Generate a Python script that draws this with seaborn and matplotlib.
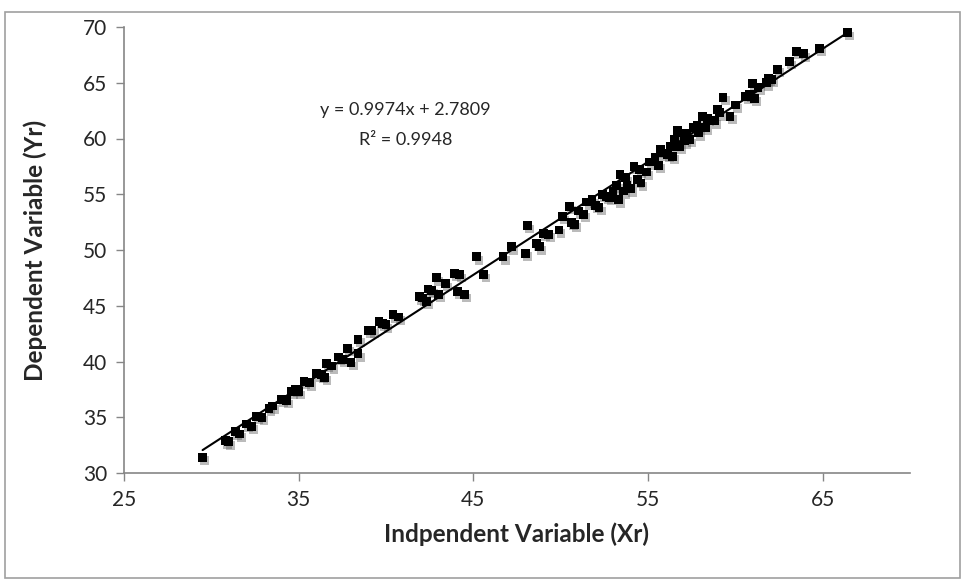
import numpy as np
import pandas as pd
import seaborn as sns
import matplotlib
matplotlib.use("Agg")
import matplotlib.pyplot as plt
import matplotlib.patheffects as pe
from matplotlib.patches import Rectangle

xr = [29.5, 30.8, 31.0, 31.4, 31.6, 32.0, 32.3, 32.6, 32.9, 33.3, 33.5, 34.0, 34.3,
      34.6, 34.8, 35.0, 35.3, 35.6, 36.0, 36.3, 36.5, 36.6, 36.9, 37.3, 37.5, 37.8,
      38.0, 38.4, 38.4, 39.0, 39.2, 39.6, 39.8, 40.0, 40.4, 40.7, 41.9, 42.1, 42.3,
      42.4, 42.6, 42.9, 43.0, 43.4, 43.9, 44.2, 44.1, 44.5, 45.2, 45.6, 46.7, 47.2,
      48.1, 48.0, 48.6, 48.8, 49.0, 49.3, 49.9, 50.1, 50.5, 50.6, 50.8, 51.0, 51.3,
      51.5, 51.8, 52.0, 52.2, 52.4, 52.6, 52.8, 53.0, 53.2, 53.3, 53.4, 53.6, 53.7,
      53.8, 54.0, 54.2, 54.4, 54.5, 54.6, 54.9, 55.1, 55.4, 55.6, 55.7, 55.9, 56.1,
      56.3, 56.4, 56.5, 56.7, 56.8, 56.9, 57.1, 57.2, 57.4, 57.6, 57.8, 57.9, 58.1,
      58.3, 58.4, 58.8, 59.0, 59.1, 59.3, 59.7, 60.0, 60.6, 60.8, 61.0, 61.1, 61.3,
      61.8, 61.9, 62.1, 62.4, 63.1, 63.5, 63.9, 64.8, 66.4]
yr = [31.4, 32.9, 32.8, 33.7, 33.5, 34.4, 34.2, 35.1, 35.0, 35.8, 36.0, 36.6, 36.5,
      37.3, 37.5, 37.3, 38.2, 38.1, 38.9, 38.8, 38.6, 39.8, 39.6, 40.4, 40.2, 41.2,
      39.9, 42.0, 40.7, 42.8, 42.8, 43.6, 43.4, 43.3, 44.2, 44.0, 45.8, 45.7, 45.4,
      46.5, 46.4, 47.5, 46.0, 47.0, 47.9, 47.8, 46.3, 46.0, 49.4, 47.8, 49.4, 50.3,
      52.2, 49.7, 50.6, 50.3, 51.5, 51.4, 51.8, 53.0, 53.9, 52.5, 52.3, 53.5, 53.2,
      54.3, 54.5, 54.0, 53.8, 55.0, 54.8, 54.7, 55.3, 55.8, 54.5, 56.8, 55.3, 56.5,
      55.8, 55.5, 57.5, 56.3, 57.2, 56.0, 57.0, 57.9, 58.3, 57.6, 59.0, 58.7, 58.6,
      59.3, 58.4, 59.9, 60.7, 59.3, 60.5, 59.8, 60.5, 59.9, 61.0, 61.2, 60.5, 62.0,
      61.0, 61.8, 61.6, 62.6, 62.3, 63.7, 62.0, 63.0, 63.8, 64.0, 64.9, 63.6, 64.6,
      65.0, 65.4, 65.3, 66.2, 66.9, 67.8, 67.6, 68.1, 69.5]

eq_text = "y = 0.9974x + 2.7809"
r2_text = "R\u00b2 = 0.9948"
x_ticks = [25, 35, 45, 55, 65]
y_ticks = [30, 35, 40, 45, 50, 55, 60, 65, 70]

df = pd.DataFrame({"x": xr, "y": yr})

sns.set_style("white")
plt.rcParams["font.family"] = ["Lato", "DejaVu Sans"]

fig = plt.figure(figsize=(9.68, 5.81), dpi=100)
fig.patch.set_facecolor("white")
fig.patches.append(Rectangle((5 / 968, 3 / 581), 955 / 968, 566 / 581,
                             transform=fig.transFigure, fill=False,
                             edgecolor="#a0a0a0", linewidth=1.2))
ax = fig.add_axes([124 / 968, 1 - 473 / 581, 786 / 968, 446 / 581])

sns.regplot(data=df, x="x", y="y", ax=ax, ci=None, truncate=True,
            marker="s",
            scatter_kws=dict(s=40, color="black", edgecolors="none", alpha=1,
                             path_effects=[pe.SimplePatchShadow(offset=(1.5, -2.5), shadow_rgbFace="#555555", alpha=0.4),
                                           pe.Normal()]),
            line_kws=dict(color="black", linewidth=1.5))

ax.set_xlim(25, 70)
ax.set_ylim(30, 70)
ax.set_xticks(x_ticks)
ax.set_yticks(y_ticks)
ax.tick_params(axis="both", labelsize=15, direction="out", length=6, width=1,
               color="#868686")
ax.tick_params(axis="x", pad=6)
ax.tick_params(axis="y", pad=6)
ax.xaxis.set_ticks_position("bottom")
ax.yaxis.set_ticks_position("left")
for s in ["top", "right"]:
    ax.spines[s].set_visible(False)
for s in ["left", "bottom"]:
    ax.spines[s].set_color("#868686")
    ax.spines[s].set_linewidth(1.2)

ax.set_xlabel("Indpendent Variable (Xr)", fontsize=17.5, fontweight="bold", labelpad=9)
ax.set_ylabel("Dependent Variable (Yr)", fontsize=17.5, fontweight="bold", labelpad=26)

ax.text(41.1, 62.6, eq_text, ha="center", va="center", fontsize=13)
ax.text(41.1, 59.9, r2_text, ha="center", va="center", fontsize=13)

fig.savefig("out.png", dpi=100, facecolor="white")
